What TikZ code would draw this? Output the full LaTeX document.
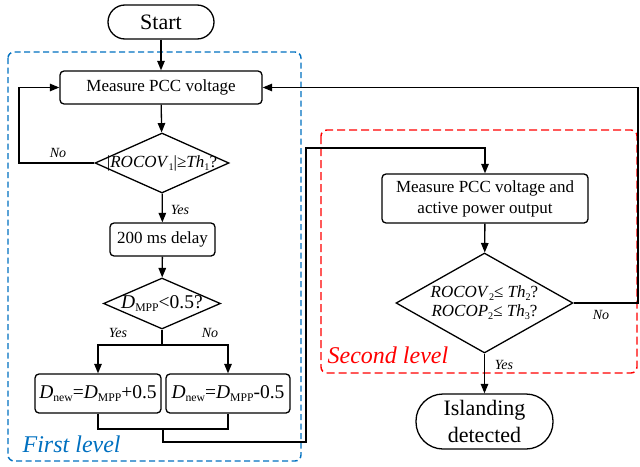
\documentclass[tikz,border=0pt]{standalone}
\usepackage{fontspec}
\newfontfamily\fTimes{Liberation Serif}
\usetikzlibrary{arrows.meta,shapes.geometric}
\definecolor{lvlblue}{RGB}{0,112,192}
\definecolor{lvlred}{RGB}{255,0,0}
\newcommand\lowsub[1]{\raisebox{-0.4ex}{\scalebox{0.6}{#1}}}
\begin{document}
\begin{tikzpicture}[x=1pt,y=-1pt,
  line width=1.3pt,
  arr/.style={-{Triangle[length=9.5pt,width=7.5pt]}},
  procbox/.style={draw, rounded corners=4pt, inner sep=0pt, align=center,
    font=\fTimes\fontsize{17}{21}\selectfont},
  termbox/.style={draw, inner sep=0pt, align=center,
    font=\fTimes\fontsize{22}{27}\selectfont},
  decision/.style={draw, shape=diamond, inner sep=0pt, align=center,
    font=\fTimes\fontsize{17}{20}\selectfont},
  lbl/.style={font=\fTimes\fontsize{14}{16}\selectfont\itshape, inner sep=0pt},
  level/.style={font=\fTimes\fontsize{24}{26}\selectfont\itshape, inner sep=0pt, anchor=base west},
  lvlbox/.style={dash pattern=on 6pt off 3.5pt, line width=1.4pt, rounded corners=6pt}
]
\useasboundingbox (0,0) rectangle (640,466);
% level frames
\draw[lvlbox, lvlblue] (8,52) rectangle (301,461);
\draw[lvlbox, lvlred, dash pattern=on 8pt off 4pt] (321,130) rectangle (637,373);
\node[level, text=lvlblue] (lv1) at (22,452) {First level};
\node[level, text=lvlred] (lv2) at (327,363) {Second level};

% nodes
\node[termbox, rounded corners=17pt, minimum width=106pt, minimum height=34pt] (start) at (161,22) {Start};
\node[procbox, minimum width=202pt, minimum height=33pt] (meas) at (161,87.5) {Measure PCC voltage};
\node[decision, minimum width=134pt, minimum height=60pt] (d1) at (162,163)
  {\makebox[0pt]{|\textit{ROCOV}\lowsub{1}|≥\textit{Th}\lowsub{1}?}};
\node[procbox, minimum width=105pt, minimum height=33pt] (delay) at (162.5,239.5) {200 ms delay};
\node[decision, minimum width=117pt, minimum height=51pt, font=\fTimes\fontsize{19.5}{22}\selectfont] (d2) at (162,303.5)
  {\makebox[0pt]{\textit{D}\lowsub{MPP}<0.5?}};
\node[procbox, minimum width=126pt, minimum height=39pt, font=\fTimes\fontsize{19.5}{22}\selectfont] (lbox) at (98,393.5)
  {\textit{D}\lowsub{new}=\textit{D}\lowsub{MPP}+0.5};
\node[procbox, minimum width=124pt, minimum height=39pt, font=\fTimes\fontsize{19.5}{22}\selectfont] (rbox) at (228,393.5)
  {\textit{D}\lowsub{new}=\textit{D}\lowsub{MPP}-0.5};
\node[procbox, minimum width=206pt, minimum height=49pt] (meas2) at (485,198.5)
  {Measure PCC voltage and\\active power output};
\node[decision, minimum width=177pt, minimum height=100pt] (d3) at (484.5,303)
  {\makebox[0pt]{\shortstack[c]{\textit{ROCOV}\lowsub{2}≤ \textit{Th}\lowsub{2}?\\[1pt]\textit{ROCOP}\lowsub{2}≤ \textit{Th}\lowsub{3}?}}};
\node[termbox, rounded corners=27pt, minimum width=137pt, minimum height=55pt] (isl) at (484.5,421.5)
  {Islanding\\detected};

% connectors
\draw[arr] (start) -- (meas);
\draw[arr] (meas) -- (d1);
\coordinate (loopc) at (19,163);
\draw[arr] (d1.west) -- (loopc) |- (meas.west);
\node[lbl] (no1) at (58,153) {No};
\draw[arr] (d1) -- (delay);
\node[lbl] (yes1) at (180,210) {Yes};
\draw[arr] (delay) -- (d2);
\coordinate (br) at (162,345);
\draw (d2.south) -- (br);
\draw[arr] (br) -| (lbox.north);
\draw[arr] (br) -| (rbox.north);
\node[lbl] (yes2) at (118,333) {Yes};
\node[lbl] (no2) at (210,333) {No};
\coordinate (mg) at (163,429);
\draw (lbox.south) |- (mg) -| (rbox.south);
\coordinate (c1) at (163,442);
\coordinate (c2) at (306,442);
\coordinate (c3) at (306,148);
\draw[arr] (mg) -- (c1) -- (c2) -- (c3) -| (meas2.north);
\draw[arr] (meas2) -- (d3);
\coordinate (r1) at (638,303);
\coordinate (r2) at (638,87.5);
\draw[arr] (d3.east) -- (r1) -- (r2) -- (meas.east);
\node[lbl] (no3) at (601,315) {No};
\draw[arr] (d3.south) -- (isl);
\node[lbl] (yes3) at (504,365) {Yes};
\end{tikzpicture}
\end{document}
